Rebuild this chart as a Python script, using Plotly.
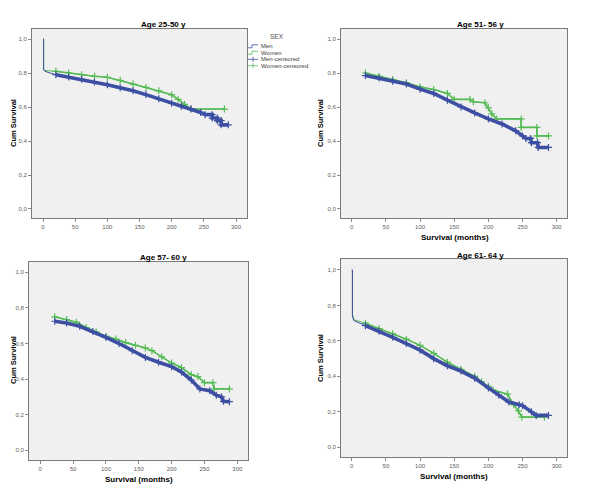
import plotly.graph_objects as go

# page size; the html body adds an 8px margin, so the figure is drawn 8px smaller
PAGE_W, PAGE_H = 600, 489
OFF = 8
W, H = PAGE_W - OFF, PAGE_H - OFF

# ---------------- data ----------------
panel_titles = ["Age 25-50 y", "Age 51- 56 y", "Age 57- 60 y", "Age 61- 64 y"]

# Panel 1: Age 25-50 y
p1_men_t = [0, 1, 1, 3, 20, 40, 60, 80, 100, 120, 140, 160, 180, 200, 215, 230, 245, 252, 263, 263,
            271, 271, 277, 277, 288]
p1_men_s = [1.0, 1.0, 0.82, 0.81, 0.79, 0.776, 0.763, 0.747, 0.731, 0.713, 0.696, 0.673, 0.648, 0.622,
            0.605, 0.59, 0.568, 0.555, 0.555, 0.535, 0.535, 0.52, 0.52, 0.495, 0.495]
p1_women_t = [0, 1, 1, 3, 20, 40, 60, 80, 100, 120, 140, 160, 180, 200, 210, 220, 230, 282]
p1_women_s = [1.0, 1.0, 0.82, 0.815, 0.81, 0.8, 0.79, 0.781, 0.775, 0.757, 0.735, 0.715, 0.695, 0.672,
              0.645, 0.615, 0.588, 0.588]

# Panel 2: Age 51-56 y
p2_men_t = [20, 40, 60, 80, 100, 120, 140, 160, 180, 200, 220, 240, 250, 255, 262, 263, 272, 273, 288]
p2_men_s = [0.785, 0.77, 0.752, 0.735, 0.705, 0.68, 0.64, 0.6, 0.565, 0.53, 0.5, 0.46, 0.43, 0.415,
            0.415, 0.39, 0.39, 0.362, 0.362]
p2_women_t = [20, 40, 60, 80, 100, 120, 140, 150, 173, 178, 195, 200, 205, 212, 248, 248, 271, 271, 288]
p2_women_s = [0.8, 0.78, 0.762, 0.743, 0.718, 0.703, 0.68, 0.645, 0.645, 0.631, 0.625, 0.595, 0.56,
              0.53, 0.53, 0.48, 0.48, 0.43, 0.43]

# Panel 3: Age 57-60 y
p3_men_t = [22, 40, 60, 80, 100, 120, 140, 160, 180, 200, 215, 230, 243, 258, 268, 276, 279, 288]
p3_men_s = [0.725, 0.715, 0.697, 0.667, 0.635, 0.6, 0.56, 0.522, 0.495, 0.47, 0.44, 0.395, 0.345,
            0.335, 0.31, 0.3, 0.275, 0.273]
p3_women_t = [22, 40, 55, 70, 85, 100, 115, 130, 145, 160, 170, 185, 200, 215, 230, 240, 250, 263, 265,
              288]
p3_women_s = [0.75, 0.735, 0.72, 0.69, 0.665, 0.64, 0.625, 0.605, 0.59, 0.575, 0.56, 0.525, 0.49, 0.465,
              0.425, 0.414, 0.38, 0.38, 0.345, 0.345]

# Panel 4: Age 61-64 y
p4_men_t = [0, 1, 1, 3, 20, 40, 60, 80, 100, 120, 140, 160, 180, 200, 215, 230, 245, 250, 263, 270, 288]
p4_men_s = [1.0, 1.0, 0.74, 0.715, 0.686, 0.655, 0.62, 0.585, 0.548, 0.5, 0.46, 0.43, 0.39, 0.335,
            0.295, 0.255, 0.24, 0.235, 0.2, 0.18, 0.18]
p4_women_t = [0, 1, 1, 3, 20, 40, 60, 80, 100, 120, 140, 160, 180, 190, 200, 207, 228, 237, 244, 249, 282]
p4_women_s = [1.0, 1.0, 0.75, 0.72, 0.7, 0.67, 0.64, 0.61, 0.575, 0.53, 0.48, 0.44, 0.40, 0.37, 0.345,
              0.323, 0.3, 0.24, 0.205, 0.17, 0.17]

legend_labels = ["Men", "Women", "Men-censored", "Women-censored"]
x_ticks = [0, 50, 100, 150, 200, 250, 300]
y_ticks = [0.0, 0.2, 0.4, 0.6, 0.8, 1.0]

panels = [
    (p1_men_t, p1_men_s, p1_women_t, p1_women_s),
    (p2_men_t, p2_men_s, p2_women_t, p2_women_s),
    (p3_men_t, p3_men_s, p3_women_t, p3_women_s),
    (p4_men_t, p4_men_s, p4_women_t, p4_women_s),
]

# ---------------- styling / layout ----------------
BLUE = "#3c4fa3"
GREEN = "#55bb55"
FONT = "Liberation Sans, Arial, sans-serif"


def px_x(x):
    return (x - OFF) / W


def px_y(y):
    return 1 - (y - OFF) / H


# plot areas in page pixels: (left, top, right, bottom), axis ranges
boxes = [
    dict(l=32, t=29, r=247, b=218, xr=[-17.1, 317.1], yr=[-0.053, 1.059]),
    dict(l=341, t=29, r=567, b=218, xr=[-15.7, 315.1], yr=[-0.053, 1.059]),
    dict(l=29, t=262, r=248, b=460, xr=[-17.2, 316.3], yr=[-0.0545, 1.058]),
    dict(l=341, t=259, r=567, b=457, xr=[-15.7, 315.1], yr=[-0.0547, 1.062]),
]

fig = go.Figure()

for i, (mt, ms, wt, ws) in enumerate(panels):
    xa = "x" if i == 0 else f"x{i+1}"
    ya = "y" if i == 0 else f"y{i+1}"
    for t, s, color, thick, msize in ((wt, ws, GREEN, 1.6, 5), (mt, ms, BLUE, 3.6, 5)):
        fig.add_trace(go.Scatter(
            x=t, y=s, mode="lines", xaxis=xa, yaxis=ya,
            line=dict(color=color, width=1),
            showlegend=False, hoverinfo="skip"))
        ct = [a for a in t if a >= 20]
        cs = [b for a, b in zip(t, s) if a >= 20]
        fig.add_trace(go.Scatter(
            x=ct, y=cs, mode="lines+markers", xaxis=xa, yaxis=ya,
            line=dict(color=color, width=thick),
            marker=dict(symbol="cross-thin", size=msize, line=dict(color=color, width=1.2)),
            showlegend=False, hoverinfo="skip"))

axis_common = dict(
    showgrid=False, zeroline=False, showline=True, mirror=True,
    linecolor="#7a7a7a", linewidth=1, ticks="outside", ticklen=3,
    tickcolor="#8a8a8a", tickfont=dict(family=FONT, size=6, color="#606060"),
)

layout = dict(
    width=W, height=H, margin=dict(l=0, r=0, t=0, b=0),
    paper_bgcolor="white", plot_bgcolor="#f0f0f0",
    separators=", ", showlegend=False,
    font=dict(family=FONT),
)
for i, b in enumerate(boxes):
    sx = "" if i == 0 else str(i + 1)
    layout["xaxis" + sx] = dict(
        axis_common, domain=[px_x(b["l"]), px_x(b["r"])], range=b["xr"],
        tickvals=x_ticks, anchor="y" + sx)
    layout["yaxis" + sx] = dict(
        axis_common, domain=[px_y(b["b"]), px_y(b["t"])], range=b["yr"],
        tickvals=y_ticks, tickformat=".1f", anchor="x" + sx)
fig.update_layout(**layout)

ann = []
# panel titles
title_pos = [(163, 24), (480, 24), (164, 257), (480, 255)]
for txt, (x, y) in zip(panel_titles, title_pos):
    ann.append(dict(text=f"<b>{txt}</b>", x=px_x(x), y=px_y(y), xref="paper", yref="paper",
                    showarrow=False, font=dict(family=FONT, size=8, color="black"),
                    xanchor="center", yanchor="middle"))
# y axis titles
for (x, y) in [(13, 123), (320, 123), (13, 360), (320, 358)]:
    ann.append(dict(text="<b>Cum Survival</b>", x=px_x(x), y=px_y(y), xref="paper", yref="paper",
                    showarrow=False, textangle=-90, font=dict(family=FONT, size=7.5, color="black"),
                    xanchor="center", yanchor="middle"))
# x axis titles
for (x, y) in [(455, 237), (139, 479), (454, 476)]:
    ann.append(dict(text="<b>Survival (months)</b>", x=px_x(x), y=px_y(y), xref="paper", yref="paper",
                    showarrow=False, font=dict(family=FONT, size=8, color="black"),
                    xanchor="center", yanchor="middle"))

# compact legend (panel 1)
ann.append(dict(text="SEX", x=px_x(277), y=px_y(36), xref="paper", yref="paper", showarrow=False,
                font=dict(family=FONT, size=6.5, color="#505050"), xanchor="center", yanchor="middle"))
leg_rows = [46.3, 52.7, 59.3, 65.7]
leg_colors = [BLUE, GREEN, BLUE, GREEN]
shapes = []
for k, (lab, yrow, col) in enumerate(zip(legend_labels, leg_rows, leg_colors)):
    ann.append(dict(text=lab, x=px_x(259), y=px_y(yrow), xref="paper", yref="paper", showarrow=False,
                    font=dict(family=FONT, size=6, color="#404040"), xanchor="left", yanchor="middle"))
    if k < 2:
        path = (f"M {px_x(248)} {px_y(yrow + 1.5)} L {px_x(252)} {px_y(yrow + 1.5)} "
                f"L {px_x(252)} {px_y(yrow - 1.5)} L {px_x(258)} {px_y(yrow - 1.5)}")
        shapes.append(dict(type="path", path=path, xref="paper", yref="paper",
                           line=dict(color=col, width=0.8)))
    else:
        shapes.append(dict(type="line", x0=px_x(248), x1=px_x(258), y0=px_y(yrow), y1=px_y(yrow),
                           xref="paper", yref="paper", line=dict(color=col, width=0.8)))
        shapes.append(dict(type="line", x0=px_x(253), x1=px_x(253), y0=px_y(yrow - 2.5),
                           y1=px_y(yrow + 2.5), xref="paper", yref="paper",
                           line=dict(color=col, width=0.8)))

fig.update_layout(annotations=ann, shapes=shapes)
fig.write_html("out.html")
